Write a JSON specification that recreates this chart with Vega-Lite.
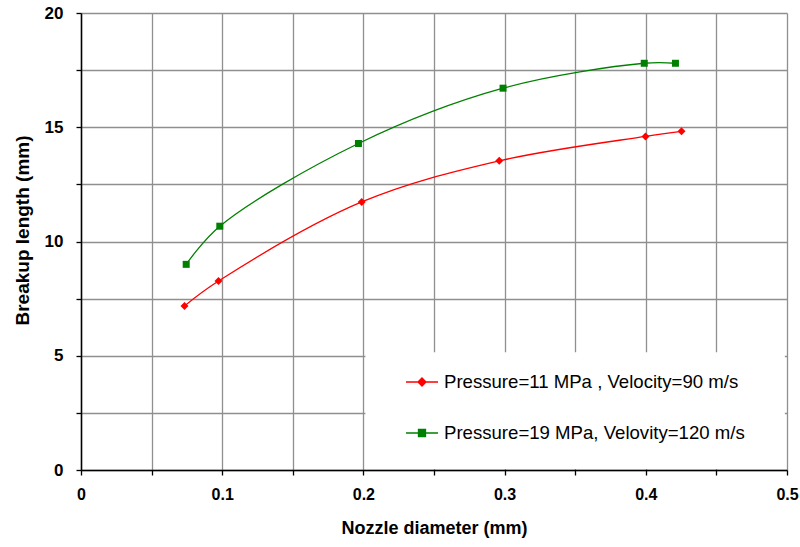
{
  "$schema": "https://vega.github.io/schema/vega-lite/v6.json",
  "width": 706,
  "height": 457,
  "autosize": "none",
  "padding": {"left": 81, "top": 13, "right": 13, "bottom": 77},
  "background": "white",
  "config": {"view": {"stroke": null}, "font": "Liberation Sans"},
  "datasets": {
    "series": [
      {"series": "Pressure=11 MPa , Velocity=90 m/s", "diameter": 0.0733, "length": 7.18},
      {"series": "Pressure=11 MPa , Velocity=90 m/s", "diameter": 0.0974, "length": 8.27},
      {"series": "Pressure=11 MPa , Velocity=90 m/s", "diameter": 0.1988, "length": 11.73},
      {"series": "Pressure=11 MPa , Velocity=90 m/s", "diameter": 0.2962, "length": 13.53},
      {"series": "Pressure=11 MPa , Velocity=90 m/s", "diameter": 0.3998, "length": 14.6},
      {"series": "Pressure=11 MPa , Velocity=90 m/s", "diameter": 0.4253, "length": 14.82},
      {"series": "Pressure=19 MPa, Velovity=120 m/s", "diameter": 0.0745, "length": 9.0},
      {"series": "Pressure=19 MPa, Velovity=120 m/s", "diameter": 0.0983, "length": 10.67},
      {"series": "Pressure=19 MPa, Velovity=120 m/s", "diameter": 0.1965, "length": 14.29},
      {"series": "Pressure=19 MPa, Velovity=120 m/s", "diameter": 0.2989, "length": 16.71},
      {"series": "Pressure=19 MPa, Velovity=120 m/s", "diameter": 0.3989, "length": 17.8},
      {"series": "Pressure=19 MPa, Velovity=120 m/s", "diameter": 0.421, "length": 17.8}
    ],
    "box": [{"diameter": 0.2014, "diameter2": 0.4985, "length": 0.04, "length2": 5.15}]
  },
  "encoding": {
    "x": {
      "field": "diameter", "type": "quantitative",
      "scale": {"domain": [0, 0.5], "nice": false, "zero": false},
      "axis": {
        "title": "Nozzle diameter (mm)",
        "values": [0, 0.05, 0.1, 0.15, 0.2, 0.25, 0.3, 0.35, 0.4, 0.45, 0.5],
        "labelExpr": "round(datum.value * 100) % 10 === 0 ? format(datum.value, '.1~f') : ''",
        "labelOverlap": false, "labelFlush": false, "labelBound": false,
        "labelFont": "Liberation Sans", "labelFontSize": 16, "labelFontWeight": "bold", "labelColor": "black",
        "labelPadding": 11,
        "tickSize": 5, "tickColor": "black", "tickWidth": 1.3,
        "domainColor": "black", "domainWidth": 1.5,
        "grid": true, "gridColor": "#8f8f8f", "gridWidth": 1.3,
        "titleFont": "Liberation Sans", "titleFontSize": 18, "titleFontWeight": "bold", "titleColor": "black",
        "titlePadding": 17
      }
    },
    "y": {
      "field": "length", "type": "quantitative",
      "scale": {"domain": [0, 20], "nice": false},
      "axis": {
        "title": "Breakup length (mm)",
        "values": [0, 2.5, 5, 7.5, 10, 12.5, 15, 17.5, 20],
        "labelExpr": "datum.value % 5 === 0 ? format(datum.value, 'd') : ''",
        "labelOverlap": false, "labelFlush": false, "labelBound": false,
        "labelFont": "Liberation Sans", "labelFontSize": 17, "labelFontWeight": "bold", "labelColor": "black",
        "labelPadding": 13,
        "tickSize": 5, "tickColor": "black", "tickWidth": 1.3,
        "domainColor": "black", "domainWidth": 1.5,
        "grid": true, "gridColor": "#8f8f8f", "gridWidth": 1.3,
        "titleFont": "Liberation Sans", "titleFontSize": 19, "titleFontWeight": "bold", "titleColor": "black",
        "titlePadding": 12, "titleY": 217
      }
    }
  },
  "layer": [
    {
      "data": {"name": "box"},
      "mark": {"type": "rect", "fill": "white", "strokeWidth": 0},
      "encoding": {
        "x2": {"field": "diameter2"},
        "y2": {"field": "length2"}
      }
    },
    {
      "data": {"name": "series"},
      "mark": {"type": "line", "interpolate": "catmull-rom", "strokeWidth": 1.3},
      "encoding": {
        "color": {
          "field": "series", "type": "nominal",
          "scale": {"domain": ["Pressure=11 MPa , Velocity=90 m/s", "Pressure=19 MPa, Velovity=120 m/s"], "range": ["#ff0000", "#008000"]},
          "legend": {
            "orient": "none", "legendX": 324, "legendY": 352, "title": null,
            "symbolSize": 1024, "symbolStrokeWidth": 1.3,
            "labelFont": "Liberation Sans", "labelFontSize": 18.6, "labelColor": "black",
            "labelOffset": 5, "rowPadding": 24, "padding": 0, "labelLimit": 0,
            "encode": {
              "symbols": {
                "update": {
                  "shape": {"signal": "datum.value === 'Pressure=11 MPa , Velocity=90 m/s' ? 'M-1,0L1,0M-0.25,0L0,-0.25L0.25,0L0,0.25Z' : 'M-1,0L1,0M-0.22,-0.22L0.22,-0.22L0.22,0.22L-0.22,0.22Z'"},
                  "fill": {"signal": "scale('color', datum.value)"},
                  "stroke": {"signal": "scale('color', datum.value)"},
                  "opacity": {"value": 1},
                  "fillOpacity": {"value": 1},
                  "strokeOpacity": {"value": 1}
                }
              }
            }
          }
        }
      }
    },
    {
      "data": {"name": "series"},
      "transform": [{"filter": "datum.series === 'Pressure=11 MPa , Velocity=90 m/s'"}],
      "mark": {"type": "point", "filled": true, "opacity": 1, "shape": "diamond", "size": 64, "color": "#ff0000"}
    },
    {
      "data": {"name": "series"},
      "transform": [{"filter": "datum.series === 'Pressure=19 MPa, Velovity=120 m/s'"}],
      "mark": {"type": "point", "filled": true, "opacity": 1, "shape": "square", "size": 49, "color": "#008000"}
    }
  ]
}
